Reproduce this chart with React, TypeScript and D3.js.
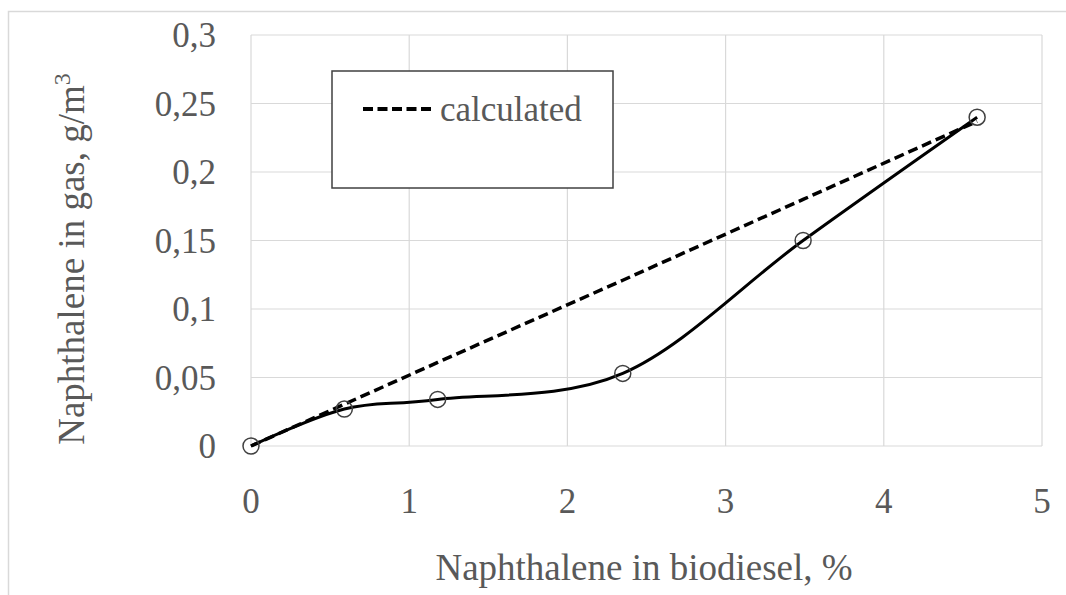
import React from 'react';
import * as d3 from 'd3';

// values
const biodieselPct = [0, 0.59, 1.18, 2.35, 3.49, 4.59];
const measuredGas = [0, 0.027, 0.034, 0.053, 0.15, 0.24];
const calculatedGas = [0, 0.0305, 0.061, 0.121, 0.18, 0.237];
const xTicks = [0, 1, 2, 3, 4, 5];
const yTicks = [0, 0.05, 0.1, 0.15, 0.2, 0.25, 0.3];

const W = 1066;
const H = 595;
const margin = { top: 35, right: 24, bottom: 149, left: 251 };
const serif = { fontFamily: 'Liberation Serif, Tinos, DejaVu Serif, serif' };
const textColor = '#595959';
const gridColor = '#d9d9d9';

const fmt = (v: number) => String(v).replace('.', ',');

const App = () => {
    const x = d3.scaleLinear().domain([0, 5]).range([margin.left, W - margin.right]);
    const y = d3.scaleLinear().domain([0, 0.3]).range([H - margin.bottom, margin.top]);

    const measured = biodieselPct.map((b, i) => [b, measuredGas[i]] as [number, number]);
    const calculated = biodieselPct.map((b, i) => [b, calculatedGas[i]] as [number, number]);

    const smooth = d3.line<[number, number]>()
        .x(d => x(d[0]))
        .y(d => y(d[1]))
        .curve(d3.curveCardinal.tension(0));
    const straight = d3.line<[number, number]>()
        .x(d => x(d[0]))
        .y(d => y(d[1]));

    return (
        <svg width={W} height={H} style={{ position: 'absolute', left: 0, top: 0, background: '#fff' }}>
            {/* chart area border, cropped at right and bottom */}
            <path d={`M8.5,${H} V11.5 H${W}`} fill="none" stroke={gridColor} strokeWidth={1.5} />

            {/* grid */}
            {yTicks.map(t => (
                <line key={'gy' + t} x1={x(0)} x2={x(5)} y1={y(t)} y2={y(t)} stroke={gridColor} strokeWidth={1.2} />
            ))}
            {xTicks.map(t => (
                <line key={'gx' + t} x1={x(t)} x2={x(t)} y1={y(0)} y2={y(0.3)} stroke={gridColor} strokeWidth={1.2} />
            ))}

            {/* tick labels */}
            {yTicks.map(t => (
                <text key={'ly' + t} x={216} y={y(t) + 12} textAnchor="end" style={serif} fontSize={35} fill={textColor}>
                    {fmt(t)}
                </text>
            ))}
            {xTicks.map(t => (
                <text key={'lx' + t} x={x(t)} y={513} textAnchor="middle" style={serif} fontSize={35} fill={textColor}>
                    {fmt(t)}
                </text>
            ))}

            {/* axis titles */}
            <text x={644} y={580} textAnchor="middle" style={serif} fontSize={37} fill={textColor}>
                Naphthalene in biodiesel, %
            </text>
            <text transform={`translate(84,259) rotate(-90)`} textAnchor="middle" style={serif} fontSize={37} fill={textColor}>
                Naphthalene in gas, g/m<tspan dy={-14} fontSize={24}>3</tspan>
            </text>

            {/* series */}
            <path d={straight(calculated) || ''} fill="none" stroke="#000" strokeWidth={3.5} strokeDasharray="10,5" />
            <path d={smooth(measured) || ''} fill="none" stroke="#000" strokeWidth={3} />
            {measured.map((d, i) => (
                <circle key={'m' + i} cx={x(d[0])} cy={y(d[1])} r={8} fill="none" stroke="#404040" strokeWidth={1.5} />
            ))}

            {/* legend */}
            <rect x={332} y={71} width={281} height={117} fill="#fff" stroke="#404040" strokeWidth={1.5} />
            <line x1={363} x2={434} y1={109} y2={109} stroke="#000" strokeWidth={4} strokeDasharray="10,4.5" />
            <text x={440} y={121} style={serif} fontSize={35} fill={textColor}>calculated</text>
        </svg>
    );
};

export default App;
